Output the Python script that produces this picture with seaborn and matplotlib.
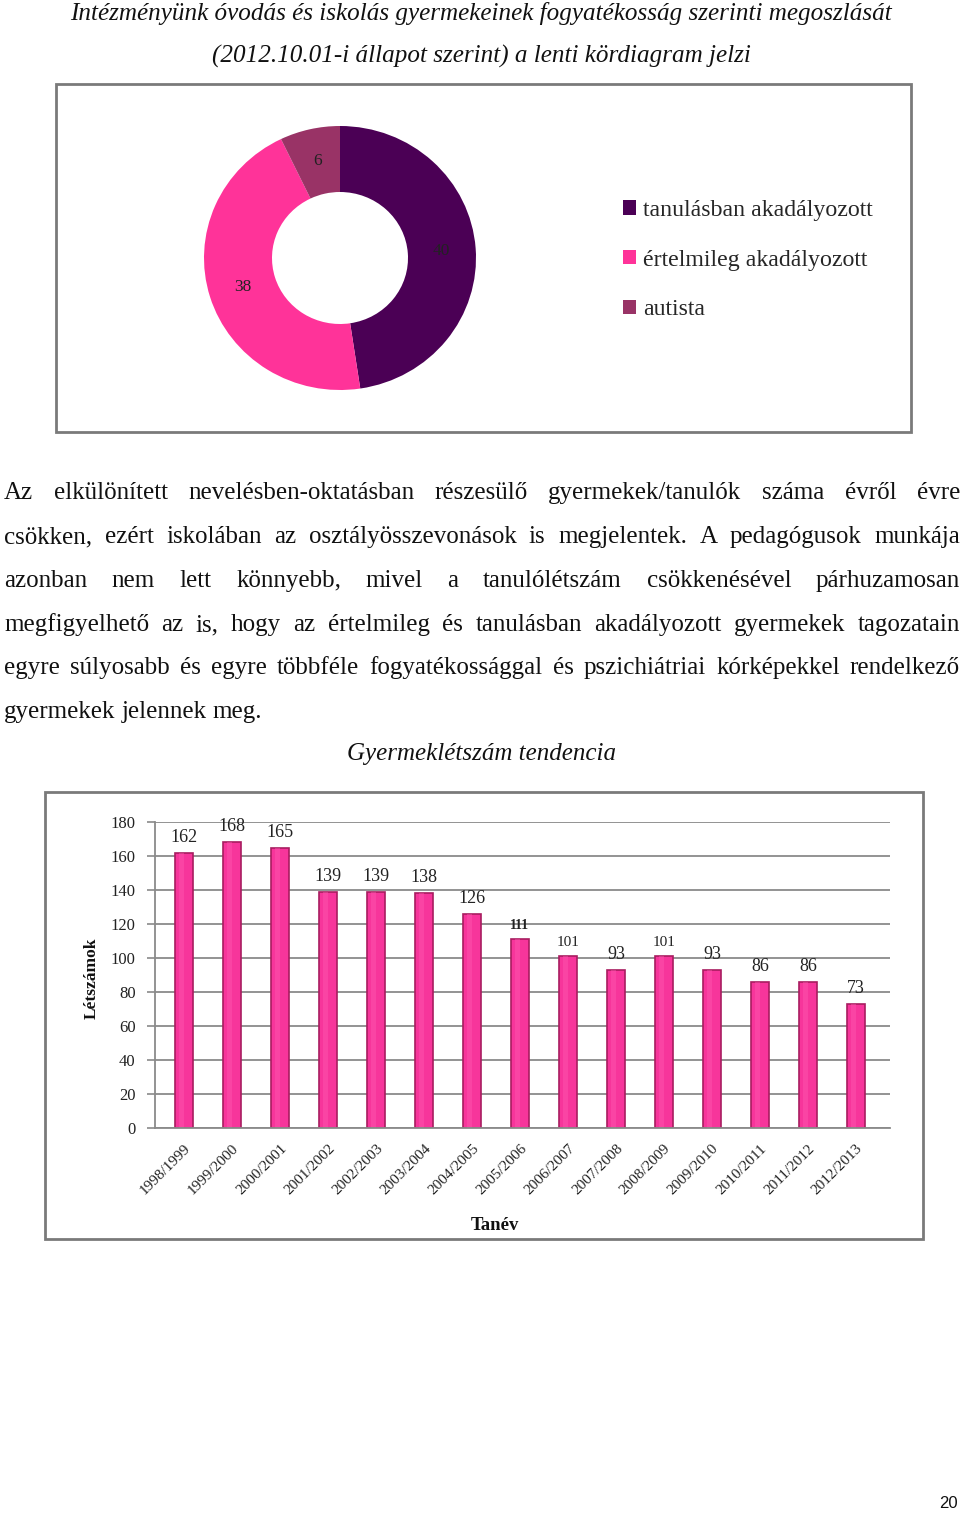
import matplotlib
matplotlib.use("Agg")
import matplotlib.pyplot as plt
from matplotlib.patches import Rectangle
import seaborn as sns
import pandas as pd
import numpy as np

# ---------------- data ----------------
pie_labels = ["tanulásban akadályozott", "értelmileg akadályozott", "autista"]
pie_values = [40, 38, 6]
pie_colors = ["#4B0055", "#FF3399", "#993366"]

years = ["1998/1999", "1999/2000", "2000/2001", "2001/2002", "2002/2003",
         "2003/2004", "2004/2005", "2005/2006", "2006/2007", "2007/2008",
         "2008/2009", "2009/2010", "2010/2011", "2011/2012", "2012/2013"]
counts = [162, 168, 165, 139, 139, 138, 126, 111, 101, 93, 101, 93, 86, 86, 73]
y_ticks = [0, 20, 40, 60, 80, 100, 120, 140, 160, 180]

title_lines = ["Intézményünk óvodás és iskolás gyermekeinek fogyatékosság szerinti megoszlását",
               "(2012.10.01-i állapot szerint) a lenti kördiagram jelzi"]
para_lines = ["Az elkülönített nevelésben-oktatásban részesülő gyermekek/tanulók száma évről évre",
              "csökken, ezért iskolában az osztályösszevonások is megjelentek. A pedagógusok munkája",
              "azonban nem lett könnyebb, mivel a tanulólétszám csökkenésével párhuzamosan",
              "megfigyelhető az is, hogy az értelmileg és tanulásban akadályozott gyermekek tagozatain",
              "egyre súlyosabb és egyre többféle fogyatékossággal és pszichiátriai kórképekkel rendelkező",
              "gyermekek jelennek meg."]
chart2_title = "Gyermeklétszám tendencia"

# ---------------- setup ----------------
sns.set_theme(style="white")
plt.rcParams["font.family"] = ["Liberation Serif", "DejaVu Serif"]

W, H = 960, 1515
fig = plt.figure(figsize=(W / 100, H / 100), dpi=100)
fig.patch.set_facecolor("white")


def fx(px):
    return px / W


def fy(py):
    return 1 - py / H


SERIF = ["Liberation Serif", "DejaVu Serif"]
TXT = 18

# title lines
fig.text(fx(481), fy(20), title_lines[0], ha="center", va="baseline",
         fontsize=18.1, style="italic", family=SERIF, color="#111111")
fig.text(fx(481), fy(63), title_lines[1], ha="center", va="baseline",
         fontsize=18.1, style="italic", family=SERIF, color="#111111")

# frames
fig.patches.append(Rectangle((fx(56), fy(432)), fx(911) - fx(56), fy(84) - fy(432),
                             transform=fig.transFigure, fill=False,
                             edgecolor="#7a7a7a", linewidth=2))
fig.patches.append(Rectangle((fx(45), fy(1239)), fx(923) - fx(45), fy(792) - fy(1239),
                             transform=fig.transFigure, fill=False,
                             edgecolor="#7a7a7a", linewidth=2))

# ---------------- donut ----------------
RX, RY = 136, 132
axp = fig.add_axes([fx(340 - RX), fy(258 + RY), 2 * RX / W, 2 * RY / H])
wedges, _ = axp.pie(pie_values, colors=pie_colors, startangle=90, counterclock=False,
                    radius=1, wedgeprops=dict(width=0.5, linewidth=0))
axp.set_aspect("auto")
tot = sum(pie_values)
cum = 0
for v in pie_values:
    mid = 90 - (cum + v / 2) / tot * 360
    cum += v
    axp.text(0.75 * np.cos(np.radians(mid)), 0.75 * np.sin(np.radians(mid)), str(v),
             ha="center", va="center", fontsize=12.5, family=SERIF, color="#222222")
axp.set_xlim(-1, 1)
axp.set_ylim(-1, 1)
axp.axis("off")

fig.legend(wedges, pie_labels, loc="upper left",
           bbox_to_anchor=(fx(611), fy(188)), bbox_transform=fig.transFigure,
           frameon=False, handlelength=0.55, handleheight=0.55,
           handletextpad=0.3, labelspacing=1.2, borderpad=0,
           prop=dict(family=SERIF, size=17.2))

# ---------------- paragraph (justified) ----------------
fig.canvas.draw()
rend = fig.canvas.get_renderer()
baselines = [499, 543, 587, 631, 674, 718]
xl, xr = 4, 960
for i, (line, yb) in enumerate(zip(para_lines, baselines)):
    words = line.split()
    ts = [fig.text(0, fy(yb), w, ha="left", va="baseline", fontsize=TXT,
                   family=SERIF, color="#111111") for w in words]
    ws = [t.get_window_extent(rend).width for t in ts]
    if i < len(para_lines) - 1:
        gap = (xr - xl - sum(ws)) / (len(words) - 1)
    else:
        gap = rend.points_to_pixels(TXT) * 0.25
    x = xl
    for t, w in zip(ts, ws):
        t.set_x(fx(x))
        x += w + gap

fig.text(fx(481), fy(760), chart2_title, ha="center", va="baseline",
         fontsize=TXT, style="italic", family=SERIF, color="#111111")

# ---------------- bar chart ----------------
y0, y180 = 1128, 822
axb = fig.add_axes([fx(155), fy(y0), fx(890) - fx(155), (y0 - y180) / H])
df = pd.DataFrame({"Tanév": years, "Létszám": counts})
sns.barplot(data=df, x="Tanév", y="Létszám", ax=axb, color="#F7359B",
            width=0.375, edgecolor="#A81C60", linewidth=1.2, saturation=1)
# subtle cylinder highlight
for p in axb.patches:
    x, w, h = p.get_x(), p.get_width(), p.get_height()
    axb.add_patch(Rectangle((x + w * 0.22, 0), w * 0.3, h, facecolor="#FF5DB3",
                            edgecolor="none", alpha=0.4, zorder=p.get_zorder() + 0.1))
axb.set_xlim(-0.604, 14.71)
axb.set_ylim(0, 180)
axb.set_yticks(y_ticks)
axb.set_yticklabels([str(t) for t in y_ticks], fontsize=12, family=SERIF, color="#222222")
axb.yaxis.grid(True, color="#8a8a8a", linewidth=1.3)
axb.set_axisbelow(True)
for s in ["top", "right"]:
    axb.spines[s].set_visible(False)
for s in ["left", "bottom"]:
    axb.spines[s].set_color("#8a8a8a")
    axb.spines[s].set_linewidth(1.3)
axb.tick_params(axis="y", which="both", left=True, length=6, width=1.2,
                color="#8a8a8a", pad=8)
axb.tick_params(axis="x", length=0, pad=10)
axb.set_xticks(range(len(years)))
axb.set_xticklabels(years, rotation=45, ha="right", rotation_mode="anchor",
                    fontsize=11, family=SERIF, color="#222222")
axb.set_xlabel("")
axb.set_ylabel("")

for i, v in enumerate(counts):
    kw = dict(fontsize=13, fontweight="normal")
    if v == 111:
        kw = dict(fontsize=10, fontweight="bold")
    elif v == 101:
        kw = dict(fontsize=11, fontweight="normal")
    axb.annotate(str(v), (i, v), xytext=(0, 5), textcoords="offset points",
                 ha="center", va="bottom", family=SERIF, color="#222222", **kw)

fig.text(fx(92), fy(978), "Létszámok", rotation=90, ha="center", va="center",
         fontsize=12.5, fontweight="bold", family=SERIF, color="#111111")
fig.text(fx(495), fy(1225), "Tanév", ha="center", va="center",
         fontsize=13.5, fontweight="bold", family=SERIF, color="#111111")

fig.text(fx(948), fy(1503), "20", ha="center", va="center",
         fontsize=12, family=["Liberation Sans", "DejaVu Sans"], color="#111111")

fig.savefig("out.png", dpi=100, facecolor="white")
